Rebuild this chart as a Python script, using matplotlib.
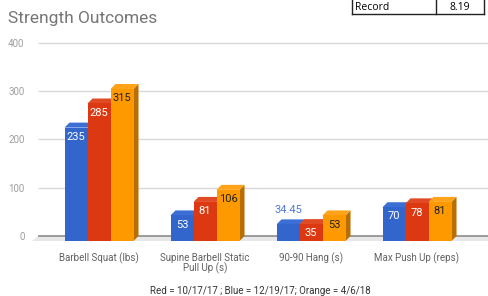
import matplotlib.pyplot as plt
from matplotlib.patches import Polygon
from matplotlib.lines import Line2D

# Data of the chart
kategori = ["Barbell Squat (lbs)", "Supine Barbell Static\nPull Up (s)",
            "90-90 Hang (s)", "Max Push Up (reps)"]
nilai_merah = [285, 81, 35, 78]       # 10/17/17
nilai_biru = [235, 53, 34.45, 70]     # 12/19/17
nilai_oranye = [315, 106, 53, 81]     # 4/6/18
y_ticks = [0, 100, 200, 300, 400]

# Colors of the series: front, top, side
warna = {
    "biru": ("#3366cc", "#3b6fd6", "#26509e"),
    "merah": ("#dc3912", "#e04a25", "#a52a0c"),
    "oranye": ("#ff9900", "#ffa31a", "#b86e00"),
}
warna_label = {"biru": "white", "merah": "white", "oranye": "#222222"}


def format_nilai(v):
    if float(v).is_integer():
        return str(int(v))
    return str(v)


def main():
    fig = plt.figure(figsize=(4.89, 2.96), dpi=100)
    W, H = 489, 296
    # axes placed by pixel coordinates
    kiri, kanan, bawah, atas = 30, 489, 250, 40
    ax = fig.add_axes([kiri / W, 1 - bawah / H, (kanan - kiri) / W, (bawah - atas) / H])

    # scale: 106 px per category, 0.4825 px per unit
    ax.set_xlim(-0.651, 3.679)
    ax.set_ylim(-29.0, 406.2)
    for s in ax.spines.values():
        s.set_visible(False)

    dx = 5 / 106          # 3D depth in data units
    dy = 5 / 0.4825
    w = 23 / 106          # bar width

    # floor
    lantai = Polygon([(-0.632, -dy), (3.8, -dy), (3.8, 0), (-0.632 + 0.057, 0)],
                     closed=True, facecolor="#e8e8e8", edgecolor="none", zorder=1)
    ax.add_patch(lantai)

    # gridlines on back plane
    for t in y_ticks:
        if t == 0:
            ax.hlines(t, -0.575, 3.8, color="#8c8c8c", lw=1.2, zorder=2)
        else:
            ax.hlines(t, -0.575, 3.8, color="#d9d9d9", lw=1.0, zorder=2)

    ax.set_yticks(y_ticks)
    ax.set_yticklabels([str(t) for t in y_ticks], fontsize=7, color="#9e9e9e", family="Roboto")
    ax.tick_params(axis="y", length=0, pad=4)

    ax.set_xticks(range(len(kategori)))
    ax.set_xticklabels(kategori, fontsize=7, color="#616161", family="Roboto", linespacing=1.0)
    ax.tick_params(axis="x", length=0, pad=2)

    seri = [("biru", nilai_biru, -1), ("merah", nilai_merah, 0), ("oranye", nilai_oranye, 1)]
    for i in range(len(kategori)):
        for nama, nilai, geser in seri:
            v = nilai[i]
            x0 = i + geser * w - w / 2
            x1 = x0 + w
            depan, atas_c, samping = warna[nama]
            # side face
            ax.add_patch(Polygon([(x1, -dy), (x1 + dx, 0), (x1 + dx, v), (x1, v - dy)],
                                 closed=True, facecolor=samping, edgecolor="none", zorder=3))
            # top face
            ax.add_patch(Polygon([(x0, v - dy), (x1, v - dy), (x1 + dx, v), (x0 + dx, v)],
                                 closed=True, facecolor=atas_c, edgecolor="none", zorder=3))
            # front face
            ax.add_patch(Polygon([(x0, -dy), (x1, -dy), (x1, v - dy), (x0, v - dy)],
                                 closed=True, facecolor=depan, edgecolor="none", zorder=3))
            teks = format_nilai(v)
            if len(teks) <= 3:
                y_label = max(v - dy - 19, (v - 2 * dy) / 2)
                ax.text((x0 + x1) / 2, y_label, teks, ha="center", va="center",
                        fontsize=8, color=warna_label[nama], family="Roboto", zorder=4)
            else:
                ax.text((x0 + x1) / 2, v + 20, teks, ha="center", va="center",
                        fontsize=8, color="#4d79d4", family="Roboto", zorder=4)

    # title and footer
    fig.text(8 / W, 1 - 18 / H, "Strength Outcomes", fontsize=12.5, color="#757575",
             family="Roboto", ha="left", va="center")
    fig.text(260 / W, 1 - 291 / H, "Red = 10/17/17 ; Blue = 12/19/17; Orange = 4/6/18",
             fontsize=7, color="#333333", family="Roboto", ha="center", va="center")

    # spreadsheet cell fragment at top right
    garis = [((352, 352), (0, 14)), ((436, 436), (0, 14)), ((484, 484), (0, 14)),
             ((352, 484), (14, 14))]
    for xs, ys in garis:
        fig.add_artist(Line2D([x / W for x in xs], [1 - y / H for y in ys],
                              color="#222222", lw=1.0, transform=fig.transFigure))
    fig.text(355 / W, 1 - 7 / H, "Record", fontsize=7.5, color="black",
             family="Open Sans", ha="left", va="center")
    fig.text(460 / W, 1 - 7 / H, "8.19", fontsize=7.5, color="black",
             family="Open Sans", ha="center", va="center")

    fig.savefig("out.png", dpi=100)


if __name__ == "__main__":
    main()
